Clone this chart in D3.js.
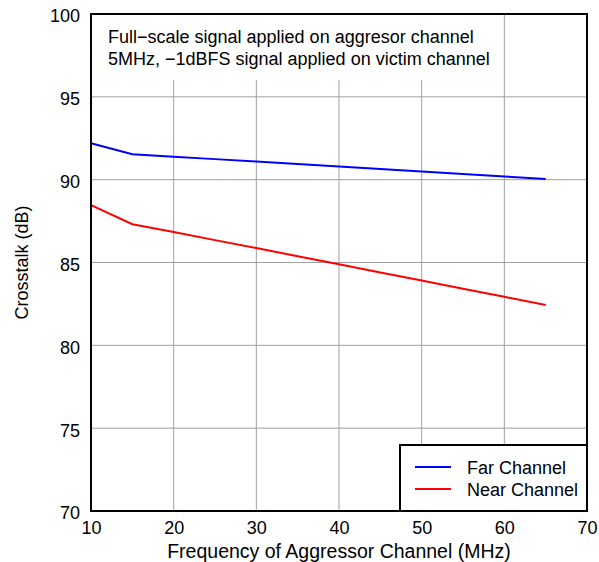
<!DOCTYPE html>
<html>
<head>
<meta charset="utf-8">
<script src="https://cdn.jsdelivr.net/npm/d3@7"></script>
<style>
  html, body { margin: 0; padding: 0; background: #fff; }
  svg { display: block; font-family: "Liberation Sans", Arial, sans-serif; }
</style>
</head>
<body>
<script>
const freqs = [10, 15, 20, 25, 30, 35, 40, 45, 50, 55, 60, 65];
const farChannel = [92.2, 91.54, 91.39, 91.24, 91.09, 90.94, 90.79, 90.64, 90.49, 90.34, 90.19, 90.04];
const nearChannel = [88.46, 87.31, 86.84, 86.35, 85.87, 85.38, 84.89, 84.4, 83.91, 83.42, 82.93, 82.43];
const xTicks = [10, 20, 30, 40, 50, 60, 70];
const yTicks = [70, 75, 80, 85, 90, 95, 100];
const seriesNames = ["Far Channel", "Near Channel"];
const seriesColors = ["#0000ff", "#ff0000"];
const noteLines = ["Full\u2212scale signal applied on aggresor channel", "5MHz, \u22121dBFS signal applied on victim channel"];
const xLabel = "Frequency of Aggressor Channel (MHz)";
const yLabel = "Crosstalk (dB)";

const W = 599, H = 562;
const m = {left: 91, top: 14, right: 12, bottom: 51};
const iw = W - m.left - m.right, ih = H - m.top - m.bottom;
const FS = 18;

const svg = d3.select("body").append("svg").attr("width", W).attr("height", H);
const g = svg.append("g").attr("transform", `translate(${m.left},${m.top})`);

const x = d3.scaleLinear().domain([10, 70]).range([0, iw]);
const y = d3.scaleLinear().domain([70, 100]).range([ih, 0]);

// grid
g.append("g").selectAll("line").data(xTicks.slice(1, -1)).join("line")
  .attr("x1", d => x(d)).attr("x2", d => x(d)).attr("y1", 0).attr("y2", ih)
  .attr("stroke", "#a0a0a0").attr("stroke-width", 1);
g.append("g").selectAll("line").data(yTicks.slice(1, -1)).join("line")
  .attr("x1", 0).attr("x2", iw).attr("y1", d => y(d)).attr("y2", d => y(d))
  .attr("stroke", "#a0a0a0").attr("stroke-width", 1);

// annotation box
g.append("rect").attr("x", 1).attr("y", 1).attr("width", 408).attr("height", 65).attr("fill", "#fff");
g.append("g").selectAll("text").data(noteLines).join("text")
  .attr("x", 17).attr("y", (d, i) => 29 + i * 22)
  .attr("font-size", FS).attr("fill", "#000").text(d => d);

// axes tick labels
const xAxis = d3.axisBottom(x).tickValues(xTicks).tickSize(0).tickPadding(10);
g.append("g").attr("transform", `translate(0,${ih})`).call(xAxis)
  .call(s => s.select(".domain").remove())
  .selectAll("text").attr("font-size", FS).attr("fill", "#000").attr("font-family", "Liberation Sans, Arial, sans-serif");
const yAxis = d3.axisLeft(y).tickValues(yTicks).tickSize(0).tickPadding(11);
g.append("g").call(yAxis)
  .call(s => s.select(".domain").remove())
  .selectAll("text").attr("font-size", FS).attr("fill", "#000").attr("font-family", "Liberation Sans, Arial, sans-serif")
  .attr("dy", "0.44em");

// data lines
const line = d3.line().x(d => x(d[0])).y(d => y(d[1]));
[farChannel, nearChannel].forEach((vals, i) => {
  g.append("path").datum(freqs.map((f, j) => [f, vals[j]]))
    .attr("d", line).attr("fill", "none").attr("stroke", seriesColors[i]).attr("stroke-width", 2);
});

// legend
const lx = 309, ly = 431;
const lg = g.append("g").attr("transform", `translate(${lx},${ly})`);
const lw = iw - lx, lh = ih - ly;
lg.append("rect").attr("width", lw).attr("height", lh).attr("fill", "#fff").attr("stroke", "#000").attr("stroke-width", 2);
seriesNames.forEach((n, i) => {
  lg.append("line").attr("x1", 15).attr("x2", 51).attr("y1", 22 + i * 22).attr("y2", 22 + i * 22)
    .attr("stroke", seriesColors[i]).attr("stroke-width", 2);
  lg.append("text").attr("x", 67).attr("y", 28.5 + i * 22).attr("font-size", FS).attr("fill", "#000").text(n);
});

// frame
g.append("rect").attr("width", iw).attr("height", ih).attr("fill", "none").attr("stroke", "#000").attr("stroke-width", 2);

// axis titles
svg.append("text").attr("x", m.left + iw / 2).attr("y", 558).attr("text-anchor", "middle")
  .attr("font-size", 19.5).attr("fill", "#000").text(xLabel);
svg.append("text").attr("transform", `translate(28,${m.top + ih / 2}) rotate(-90)`).attr("text-anchor", "middle")
  .attr("font-size", FS).attr("fill", "#000").text(yLabel);
</script>
</body>
</html>
